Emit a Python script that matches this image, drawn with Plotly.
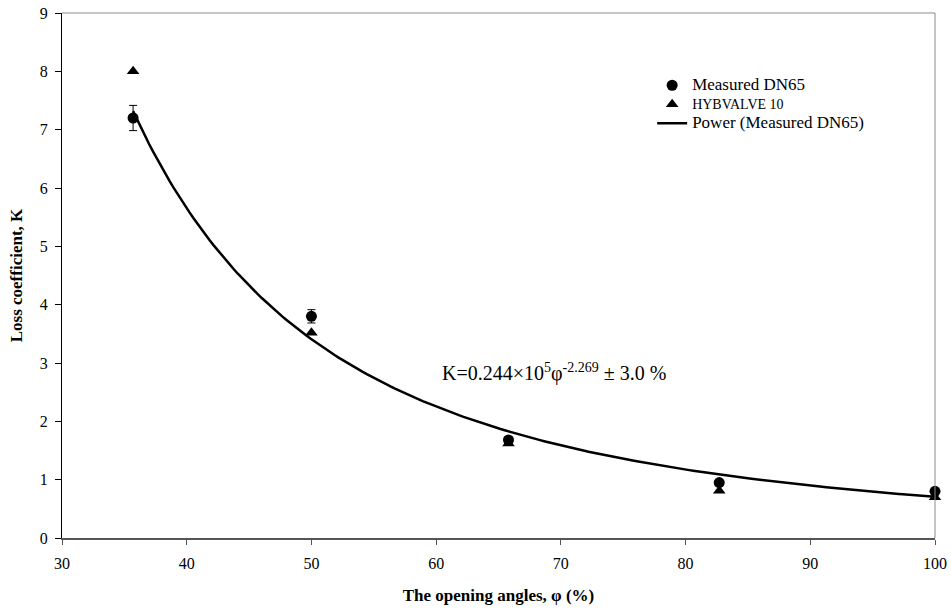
import numpy as np
import plotly.graph_objects as go

# Opening angle (%) and loss coefficients
phi = [35.7, 50.0, 65.8, 82.7, 100.0]
k_measured = [7.2, 3.8, 1.68, 0.95, 0.80]
k_hybvalve = [8.0, 3.52, 1.62, 0.81, 0.70]
err_pct = 3.0

# Power-law fit K = a * phi^b
fit_a = 0.244e5
fit_b = -2.269

phi_fit = np.linspace(min(phi), max(phi), 200)
k_fit = fit_a * phi_fit ** fit_b

FONT = "Liberation Serif"

fig = go.Figure()

fig.add_trace(go.Scatter(
    x=phi_fit, y=k_fit, mode="lines",
    line=dict(color="black", width=2.5),
    name="Power (Measured DN65)", showlegend=False, cliponaxis=False,
))

fig.add_trace(go.Scatter(
    x=phi, y=k_measured, mode="markers", cliponaxis=False,
    marker=dict(symbol="circle", size=11, color="black"),
    error_y=dict(type="percent", value=err_pct, color="black", thickness=1, width=4),
    name="<span style='font-size:17px'>Measured DN65</span>",
))

fig.add_trace(go.Scatter(
    x=phi, y=k_hybvalve, mode="markers", cliponaxis=False,
    marker=dict(symbol="triangle-up", size=11, color="black"),
    name="<span style='font-size:14px'>HYBVALVE 10</span>",
))

# legend entry for the fit line, listed last
fig.add_trace(go.Scatter(
    x=[None], y=[None], mode="lines",
    line=dict(color="black", width=2.5),
    name="<span style='font-size:17px'>Power (Measured DN65)</span>",
))

fig.add_annotation(
    x=60.3, y=2.83, xref="x", yref="y",
    xanchor="left", yanchor="middle", showarrow=False,
    text="K=0.244×10<sup>5</sup>φ<sup>-2.269</sup> ± 3.0 %",
    font=dict(family=FONT, size=20, color="black"),
)

# light grey frame on the top and right sides
fig.add_shape(type="line", xref="paper", yref="paper", x0=0, x1=1, y0=1, y1=1,
              line=dict(color="#8c8c8c", width=1))
fig.add_shape(type="line", xref="paper", yref="paper", x0=1, x1=1, y0=0, y1=1,
              line=dict(color="#8c8c8c", width=1))

fig.update_layout(
    width=951, height=611,
    margin=dict(l=62, r=16, t=13, b=73, autoexpand=False),
    paper_bgcolor="white", plot_bgcolor="white",
    font=dict(family=FONT, size=16, color="black"),
    showlegend=True,
    legend=dict(
        x=0.676, y=0.89, xanchor="left", yanchor="top",
        bgcolor="rgba(0,0,0,0)", font=dict(family=FONT, size=12),
        tracegroupgap=0, itemwidth=30,
    ),
    xaxis=dict(
        range=[30, 100], tickvals=[30, 40, 50, 60, 70, 80, 90, 100],
        showgrid=False, zeroline=False, automargin=False,
        showline=True, linecolor="#555555", linewidth=2,
        ticks="outside", ticklen=5, tickcolor="#555555", tickwidth=1,
        ticklabelstandoff=5,
        tickfont=dict(family=FONT, size=16),
        title=dict(text="<b>The opening angles, φ (%)</b>", standoff=18,
                   font=dict(family=FONT, size=17)),
    ),
    yaxis=dict(
        range=[0, 9], tickvals=list(range(10)),
        showgrid=False, zeroline=False, automargin=False,
        showline=True, linecolor="black", linewidth=1,
        ticks="outside", ticklen=6, tickcolor="black", tickwidth=1,
        ticklabelstandoff=4,
        tickfont=dict(family=FONT, size=16),
        title=dict(text="<b>Loss coefficient, K</b>", standoff=12,
                   font=dict(family=FONT, size=17)),
    ),
)

fig.write_html("out.html")
